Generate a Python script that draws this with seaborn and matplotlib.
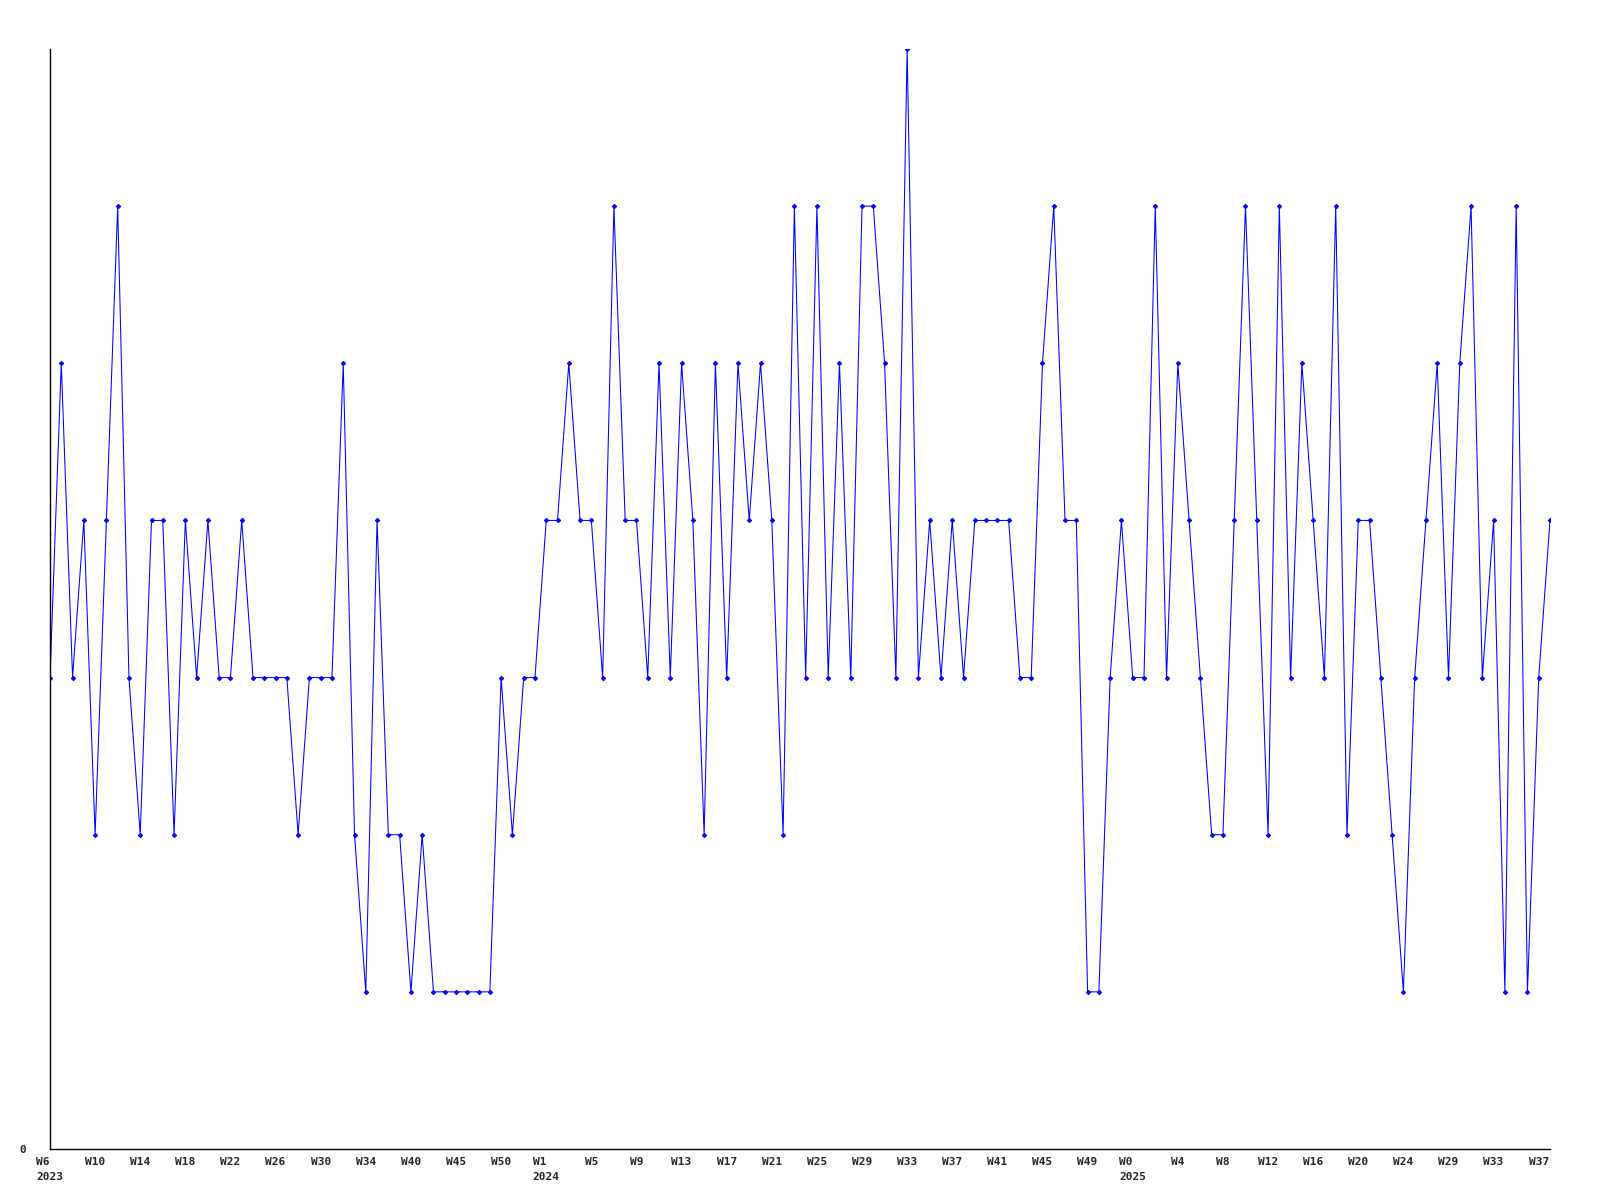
import numpy as np
import pandas as pd
import matplotlib
matplotlib.use("Agg")
import matplotlib.pyplot as plt
import seaborn as sns

# weekly values, one point per reported week
values = [
    3, 5, 3, 4, 2, 4, 6, 3, 2, 4, 4, 2, 4, 3, 4, 3, 3, 4, 3, 3,
    3, 3, 2, 3, 3, 3, 5, 2, 1, 4, 2, 2, 1, 2, 1, 1, 1, 1, 1, 1,
    3, 2, 3, 3, 4, 4, 5, 4, 4, 3, 6, 4, 4, 3, 5, 3, 5, 4, 2, 5,
    3, 5, 4, 5, 4, 2, 6, 3, 6, 3, 5, 3, 6, 6, 5, 3, 7, 3, 4, 3,
    4, 3, 4, 4, 4, 4, 3, 3, 5, 6, 4, 4, 1, 1, 3, 4, 3, 3, 6, 3,
    5, 4, 3, 2, 2, 4, 6, 4, 2, 6, 3, 5, 4, 3, 6, 2, 4, 4, 3, 2,
    1, 3, 4, 5, 3, 5, 6, 3, 4, 1, 6, 1, 3, 4,
]

# x tick labels, one every 4 points
week_labels = [
    "W6", "W10", "W14", "W18", "W22", "W26", "W30", "W34", "W40", "W45",
    "W50", "W1", "W5", "W9", "W13", "W17", "W21", "W25", "W29", "W33",
    "W37", "W41", "W45", "W49", "W0", "W4", "W8", "W12", "W16", "W20",
    "W24", "W29", "W33", "W37",
]
year_labels = {"W6": "2023", "W1": "2024", "W0": "2025"}

df = pd.DataFrame({"idx": np.arange(len(values)), "value": values})

sns.set_style("white")
plt.rcParams["font.family"] = ["DejaVu Sans Mono"]

fig = plt.figure(figsize=(16, 12), dpi=100)
ax = fig.add_axes([50 / 1600, 1 - 1149 / 1200, 1500 / 1600, 1100 / 1200])

sns.lineplot(data=df, x="idx", y="value", ax=ax, color="#0000ff",
             linewidth=0.75, marker="D", markersize=2.2,
             markeredgecolor="#0000ff", markerfacecolor="#0000ff")

ax.set_xlim(0, len(values) - 1)
ax.set_ylim(0, 7)

tick_pos = np.arange(0, len(values), 4)[:len(week_labels)]
labels = []
for w in week_labels:
    if w in year_labels and (w != "W6" or not labels):
        labels.append(w + "\n" + year_labels[w])
    else:
        labels.append(w)
ax.set_xticks(tick_pos)
ax.set_xticklabels(labels, fontsize=8, fontweight="bold", linespacing=1.6)
for t in ax.get_xticklabels():
    t.set_multialignment("left")
ax.set_yticks([0])
ax.set_yticklabels(["0"], fontsize=8, fontweight="bold")

ax.tick_params(axis="x", length=0, pad=6)
ax.tick_params(axis="y", length=0, pad=17)
ax.set_xlabel("")
ax.set_ylabel("")

for side in ["top", "right"]:
    ax.spines[side].set_visible(False)
for side in ["left", "bottom"]:
    ax.spines[side].set_color("black")
    ax.spines[side].set_linewidth(1)

fig.savefig("out.png", dpi=100)
